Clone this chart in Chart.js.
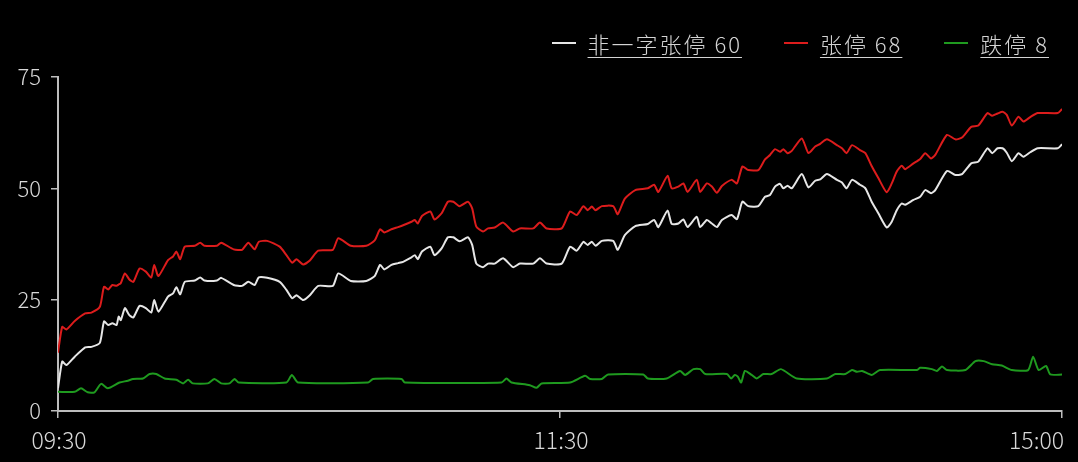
<!DOCTYPE html>
<html>
<head>
<meta charset="utf-8">
<script src="https://cdn.jsdelivr.net/npm/chart.js@4"></script>
<style>
    html, body { margin: 0; padding: 0; background: #000; }
    #wrap { position: relative; width: 1078px; height: 462px; background: #000; }
    #legend {
        position: absolute; top: 29px; right: 29px; height: 28px;
        display: flex; align-items: center;
        font-family: "Noto Sans CJK SC", "Noto Sans", sans-serif; font-weight: 300;
        font-size: 22px; color: #d4d4d4; letter-spacing: 2px;
    }
    .item { display: flex; align-items: center; margin-left: 42px; }
    .item:first-child { margin-left: 0; }
    .swatch { width: 24px; height: 2px; margin-right: 12px; }
    .txt { text-decoration: underline; text-underline-offset: 4px; text-decoration-thickness: 1px; white-space: pre; }
</style>
</head>
<body>
<div id="wrap">
    <canvas id="chart" width="1078" height="462"></canvas>
    <div id="legend"></div>
</div>
<script>
// ================= DATOS =================
// minutos de negociación desde 09:30 (0) hasta 15:00 (240)
const axisTicks = [0, 120, 240];
const axisLabels = ['09:30', '11:30', '15:00'];

const seriesNames = ['非一字张停', '张停', '跌停'];
const seriesColors = ['#e6e6e6', '#dc1c1c', '#1f9a1f'];

// tiempos compartidos por 非一字张停 y 张停
const upTimes = [
    0, 1, 2, 4, 6.5, 8, 10, 11, 12, 13, 14, 14.5, 15, 16, 17, 18, 19.5, 21, 22.3, 23,
    24, 26.3, 27.5, 28.3, 29.2, 30.3, 32.7, 34, 35, 38, 39, 42, 44, 45.5, 47, 48, 50, 53, 54.6, 56,
    57, 58.6, 60.2, 62.2, 65.7, 67, 70, 73.7, 75.7, 77, 78, 79.7, 81.3, 82.5, 84.5, 85.3, 86, 87, 89, 90,
    91.7, 93.2, 94.5, 96, 98, 99, 100, 101.6, 102.8, 104.4, 106.4, 108.8, 110.4, 113.6, 115.2, 116.8, 120.4, 122.4, 124, 125.6,
    126.6, 127.6, 128.5, 130, 132.7, 133.8, 135.5, 138, 141, 142.5, 143.5, 145.7, 146.7, 148.3, 149.5, 150.5, 152.7, 153.5, 155.1, 156.3,
    157.5, 158.7, 161, 162.3, 163.6, 165, 167.4, 169, 170.2, 171.4, 172.6, 173.4, 174.4, 175.4, 177.8, 179.4, 181, 182.2, 183.8, 186.2,
    187.4, 188.5, 189.8, 191.7, 193, 194.5, 196.1, 198.1, 199.3, 200.5, 201.7, 202.5, 204.5, 206.1, 207.3, 208.7, 209.7, 212.5, 214.5, 216.1,
    218.3, 220, 222.2, 223.3, 224.6, 225.8, 226.8, 228, 229.6, 230.8, 232.4, 234.2, 239, 240
];
const feiYiZi = [
    5.1, 11.1, 10.3, 12.2, 14.3, 14.4, 15.3, 20.1, 19.3, 19.7, 19.3, 21.2, 20.4, 23.1, 21.6, 21.0, 23.6, 23.1, 22.1, 24.9,
    22.3, 25.7, 26.4, 27.8, 26.2, 29.0, 29.3, 30.0, 29.3, 29.3, 29.9, 28.3, 28.1, 29.0, 28.3, 30.0, 29.9, 29.0, 27.2, 25.3,
    26.0, 24.9, 26.0, 28.1, 28.1, 30.9, 29.2, 29.2, 30.3, 32.8, 31.8, 32.8, 33.2, 33.5, 34.5, 35.0, 34.1, 35.8, 36.9, 35.0,
    36.5, 39.0, 39.0, 38.1, 39.0, 37.3, 33.1, 32.3, 33.1, 33.1, 34.3, 32.3, 33.1, 33.1, 34.3, 33.1, 33.1, 36.9, 36.0, 38.0,
    37.3, 38.0, 37.1, 38.2, 38.2, 36.2, 39.5, 41.5, 42.0, 42.9, 41.3, 45.0, 42.0, 42.1, 43.0, 41.3, 43.6, 41.3, 42.9, 42.1,
    41.3, 42.9, 44.0, 43.1, 47.0, 46.0, 46.0, 48.1, 48.5, 50.4, 51.0, 50.0, 50.6, 50.0, 53.2, 50.2, 51.7, 52.0, 53.2, 51.9,
    51.3, 50.0, 51.9, 50.8, 50.0, 47.0, 44.4, 41.2, 42.5, 45.1, 46.6, 46.3, 47.4, 48.1, 49.6, 48.9, 49.6, 53.9, 53.0, 53.2,
    55.6, 56.0, 59.0, 57.9, 59.0, 59.0, 58.0, 56.1, 57.9, 57.1, 58.1, 59.0, 59.0, 59.9
];
const zhangTing = [
    13.1, 18.9, 18.3, 20.2, 21.9, 22.1, 23.4, 27.9, 27.3, 28.3, 28.1, 28.4, 28.7, 30.9, 29.6, 29.0, 32.0, 31.3, 30.0, 32.8,
    30.3, 33.9, 34.7, 35.8, 34.1, 36.9, 37.1, 37.8, 37.1, 37.1, 37.8, 36.3, 36.2, 37.8, 36.3, 38.0, 38.2, 36.9, 35.0, 33.3,
    34.1, 32.9, 33.8, 36.0, 36.2, 38.8, 37.1, 37.1, 38.3, 40.8, 40.1, 40.8, 41.3, 41.7, 42.5, 42.9, 42.1, 43.8, 44.8, 43.0,
    44.4, 47.0, 47.0, 46.0, 47.0, 45.5, 41.4, 40.3, 41.0, 41.2, 42.3, 40.3, 41.0, 41.0, 42.3, 41.0, 41.0, 44.8, 44.0, 46.0,
    45.1, 45.9, 45.1, 46.0, 46.0, 44.2, 47.7, 49.6, 50.0, 50.8, 49.2, 52.8, 50.0, 50.4, 51.1, 49.2, 51.9, 49.2, 51.1, 50.4,
    49.0, 50.5, 51.9, 51.1, 54.9, 54.1, 54.1, 56.5, 57.5, 58.8, 58.2, 58.8, 57.9, 58.4, 61.2, 57.9, 59.4, 60.0, 61.0, 59.7,
    59.0, 57.9, 59.7, 58.6, 57.9, 55.0, 52.3, 49.1, 51.1, 53.8, 55.1, 54.3, 55.6, 56.6, 57.9, 56.7, 57.5, 62.0, 61.0, 61.4,
    63.8, 64.1, 66.9, 66.3, 66.8, 67.2, 66.5, 64.1, 66.1, 65.0, 66.0, 66.9, 66.9, 67.8
];

// tiempos de 跌停
const downTimes = [
    0, 4, 5.5, 7.1, 8.7, 10.3, 11.9, 14.7, 16.7, 17.9, 20.3, 21.9, 23.5, 25.5, 28.3, 29.9, 31.1, 32.2, 35.8, 37.4,
    39, 41, 42.2, 43.2, 54.6, 55.9, 57.4, 74.1, 75.3, 82.1, 82.9, 106, 107.2, 108.4, 112.8, 114.4, 115.6, 122.4, 126, 127.2,
    130, 131.5, 139.9, 141, 145.5, 148.7, 149.9, 151.9, 153.5, 154.7, 159.9, 160.9, 161.8, 162.5, 163.3, 164.2, 165.8, 167, 168.6, 170.6,
    172.8, 176.6, 183.8, 185.8, 188.2, 189.8, 191, 192.2, 194.5, 196.5, 205.3, 206.1, 208.9, 210.1, 211.3, 212.5, 216.9, 219.3, 221.3, 223.3,
    225.6, 228, 231.9, 233.1, 234.4, 236.2, 237.2, 240
];
const dieTing = [
    4.3, 4.3, 5.1, 4.2, 4.2, 6.1, 5.1, 6.4, 6.8, 7.2, 7.3, 8.3, 8.3, 7.3, 7.0, 6.2, 7.0, 6.2, 6.2, 7.2,
    6.2, 6.2, 7.2, 6.4, 6.4, 8.1, 6.4, 6.4, 7.2, 7.2, 6.4, 6.4, 7.3, 6.4, 5.8, 5.2, 6.2, 6.4, 7.9, 7.2,
    7.2, 8.2, 8.2, 7.3, 7.3, 9.0, 8.1, 9.4, 9.4, 8.3, 8.3, 7.3, 8.1, 7.7, 6.4, 9.0, 8.1, 7.3, 8.3, 8.3,
    9.4, 7.3, 7.3, 8.3, 8.3, 9.2, 8.8, 9.0, 8.1, 9.2, 9.2, 9.7, 9.4, 9.0, 10.0, 9.2, 9.2, 11.2, 11.2, 10.5,
    10.2, 9.2, 9.2, 12.2, 9.2, 10.1, 8.2, 8.2
];

const yTicks = [0, 25, 50, 75];

// ================= GRÁFICO =================
const FONT = '"Noto Sans CJK SC", "Noto Sans", sans-serif';
const TEXT_COLOR = '#d8d8d8';
const AXIS_COLOR = '#bdbdbd';

function toPoints(times, values) {
    return times.map((t, i) => ({ x: t, y: values[i] }));
}

const timeLabelsPlugin = {
    id: 'timeLabels',
    afterDraw(chart) {
        const ctx = chart.ctx;
        const xs = chart.scales.x;
        ctx.save();
        ctx.fillStyle = TEXT_COLOR;
        ctx.font = '300 23px ' + FONT;
        ctx.textBaseline = 'middle';
        axisTicks.forEach((t, i) => {
            const px = xs.getPixelForValue(t);
            const last = i === axisTicks.length - 1;
            ctx.textAlign = last ? 'right' : 'center';
            ctx.fillText(axisLabels[i], last ? px + 2 : px + 1, 440);
        });
        ctx.restore();
    }
};

const allSeries = [
    { times: upTimes, values: feiYiZi },
    { times: upTimes, values: zhangTing },
    { times: downTimes, values: dieTing }
];

const chart = new Chart(document.getElementById('chart'), {
    type: 'line',
    data: {
        datasets: allSeries.map((s, i) => ({
            label: seriesNames[i],
            data: toPoints(s.times, s.values),
            borderColor: seriesColors[i],
            borderWidth: 2,
            pointRadius: 0,
            tension: 0.2,
            fill: false
        }))
    },
    options: {
        responsive: false,
        animation: false,
        maintainAspectRatio: false,
        layout: { padding: { top: 77, right: 16, left: 0, bottom: 0 } },
        plugins: {
            legend: { display: false },
            tooltip: { enabled: false }
        },
        scales: {
            x: {
                type: 'linear',
                min: 0,
                max: 240,
                afterBuildTicks: s => { s.ticks = axisTicks.map(v => ({ value: v })); },
                afterFit: s => { s.height = 51; },
                ticks: { display: false },
                border: { color: AXIS_COLOR, width: 2 },
                grid: { drawOnChartArea: false, drawTicks: true, tickLength: 7, color: AXIS_COLOR, lineWidth: 1.5 }
            },
            y: {
                min: 0,
                max: 75,
                afterBuildTicks: s => { s.ticks = yTicks.map(v => ({ value: v })); },
                afterFit: s => { s.width = 58; },
                ticks: { color: TEXT_COLOR, padding: 10, font: { family: FONT, size: 22, weight: 300 } },
                border: { color: AXIS_COLOR, width: 2 },
                grid: { drawOnChartArea: false, drawTicks: true, tickLength: 7, color: AXIS_COLOR, lineWidth: 1.5 }
            }
        }
    },
    plugins: [timeLabelsPlugin]
});

// ================= LEYENDA =================
const legendEl = document.getElementById('legend');
allSeries.forEach((s, i) => {
    const item = document.createElement('div');
    item.className = 'item';
    const sw = document.createElement('span');
    sw.className = 'swatch';
    sw.style.background = seriesColors[i];
    const txt = document.createElement('span');
    txt.className = 'txt';
    txt.textContent = seriesNames[i] + ' ' + Math.round(s.values[s.values.length - 1]);
    item.appendChild(sw);
    item.appendChild(txt);
    legendEl.appendChild(item);
});
</script>
</body>
</html>
